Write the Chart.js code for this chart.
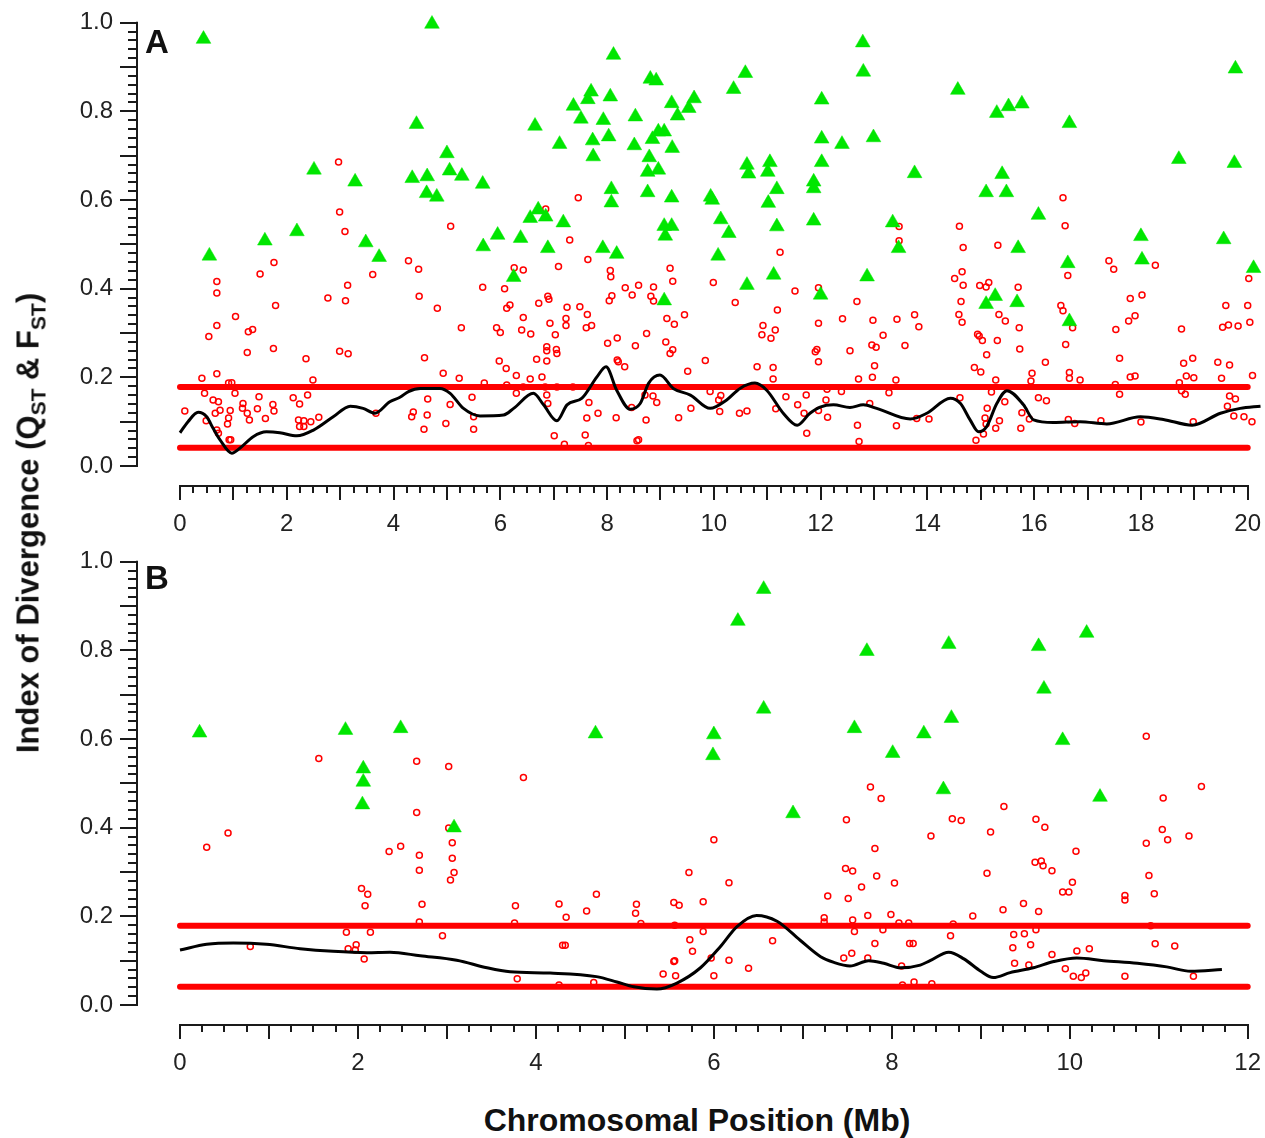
<!DOCTYPE html>
<html><head><meta charset="utf-8">
<style>
html,body{margin:0;padding:0;background:#fff;}
#wrap{position:relative;width:1265px;height:1138px;overflow:hidden;font-family:'Liberation Sans',Arial,sans-serif;background:#fff;}
canvas{position:absolute;left:0;}
#cA{top:0;} #cB{top:539px;}
.lbl{position:absolute;font-weight:bold;color:#111;line-height:1;white-space:nowrap;}
.sub{font-size:21px;position:relative;top:7px;}
</style>
<script src="https://cdn.jsdelivr.net/npm/chart.js@4.4.1/dist/chart.umd.min.js"></script>
</head><body>
<div id="wrap">
<canvas id="cA" width="1265" height="545"></canvas>
<canvas id="cB" width="1265" height="545"></canvas>
<div class="lbl" style="left:145px;top:25px;font-size:33px;">A</div>
<div class="lbl" style="left:145px;top:561px;font-size:33px;">B</div>
<div class="lbl" id="ytitle" style="left:28px;top:523px;font-size:31px;transform:translate(-50%,-50%) rotate(-90deg);">Index of Divergence (Q<span class="sub">ST</span> &amp; F<span class="sub">ST</span>)</div>
<div class="lbl" style="left:697px;top:1120px;font-size:32px;transform:translate(-50%,-50%);">Chromosomal Position (Mb)</div>
</div>
<script>
// ---------- Panel A data ----------
const xTicksA = [0,2,4,6,8,10,12,14,16,18,20];
const xTicksB = [0,2,4,6,8,10,12];
const yTicks = [0,0.2,0.4,0.6,0.8,1.0];
const yTickLabels = ['0.0','0.2','0.4','0.6','0.8','1.0'];
const thresholdsA = [0.178, 0.041];
const thresholdsB = [0.179, 0.041];

const qstA = [[0.44,0.963],[0.55,0.474],[1.59,0.508],[2.19,0.529],[2.51,0.668],[3.28,0.641],[3.48,0.504],[3.73,0.471],[4.35,0.649],[4.43,0.771],[4.72,0.997],[5.00,0.705],[4.63,0.653],[5.05,0.666],[5.28,0.654],[4.62,0.615],[4.81,0.607],[5.67,0.636],[6.65,0.767],[7.37,0.812],[7.70,0.844],[7.64,0.827],[7.51,0.783],[8.06,0.833],[7.93,0.780],[8.12,0.927],[7.73,0.734],[8.03,0.743],[7.74,0.698],[7.11,0.726],[8.53,0.788],[8.81,0.873],[8.92,0.869],[9.21,0.818],[9.63,0.829],[9.53,0.807],[9.32,0.790],[8.96,0.754],[9.07,0.754],[8.85,0.737],[8.51,0.723],[9.22,0.717],[8.79,0.696],[8.76,0.663],[8.96,0.668],[8.76,0.617],[9.21,0.605],[8.08,0.624],[8.08,0.594],[10.37,0.850],[10.59,0.886],[10.62,0.679],[10.65,0.659],[11.05,0.685],[11.01,0.663],[11.18,0.624],[11.02,0.593],[11.18,0.540],[11.12,0.431],[12.02,0.826],[12.02,0.738],[12.02,0.685],[11.87,0.641],[11.87,0.626],[11.87,0.553],[12.0,0.386],[9.94,0.607],[9.97,0.600],[10.13,0.556],[10.28,0.525],[10.08,0.474],[10.62,0.408],[9.07,0.541],[9.21,0.541],[9.09,0.519],[7.92,0.491],[8.18,0.478],[9.07,0.373],[7.18,0.549],[6.89,0.491],[6.71,0.578],[6.56,0.559],[6.85,0.562],[6.38,0.514],[5.95,0.521],[5.68,0.495],[6.25,0.426],[12.79,0.955],[12.80,0.889],[12.40,0.726],[12.99,0.741],[13.76,0.660],[14.57,0.848],[15.30,0.796],[15.52,0.811],[15.77,0.817],[16.66,0.773],[15.40,0.658],[15.10,0.617],[15.48,0.617],[16.08,0.566],[15.70,0.491],[16.63,0.457],[15.27,0.383],[15.10,0.365],[15.68,0.369],[16.66,0.326],[13.35,0.549],[13.46,0.491],[12.87,0.427],[18.71,0.692],[18.00,0.518],[18.02,0.465],[19.77,0.896],[19.75,0.683],[19.55,0.511],[20.11,0.446]];

const fstA = [[0.09,0.124],[0.41,0.198],[0.46,0.164],[0.49,0.102],[0.54,0.292],[0.69,0.416],[0.69,0.390],[0.69,0.317],[0.69,0.208],[0.62,0.149],[0.72,0.145],[0.75,0.126],[0.66,0.119],[0.69,0.081],[0.72,0.074],[0.89,0.095],[0.91,0.108],[0.94,0.125],[0.91,0.187],[0.97,0.188],[0.92,0.059],[0.95,0.059],[1.03,0.164],[1.04,0.337],[1.18,0.141],[1.17,0.130],[1.26,0.119],[1.30,0.104],[1.26,0.256],[1.28,0.303],[1.36,0.308],[1.45,0.129],[1.48,0.156],[1.50,0.433],[1.60,0.107],[1.74,0.139],[1.76,0.124],[1.75,0.265],[1.76,0.459],[1.79,0.362],[2.12,0.154],[2.24,0.140],[2.22,0.104],[2.24,0.089],[2.32,0.102],[2.32,0.089],[2.36,0.242],[2.39,0.160],[2.45,0.100],[2.49,0.194],[2.60,0.110],[2.77,0.379],[2.97,0.686],[2.99,0.573],[3.09,0.529],[3.14,0.408],[3.10,0.373],[2.99,0.259],[3.15,0.253],[3.61,0.432],[3.67,0.119],[4.28,0.463],[4.47,0.444],[4.48,0.383],[4.34,0.111],[4.37,0.122],
[4.82,0.356],[5.07,0.541],[4.58,0.244],[4.64,0.151],[4.63,0.115],[4.57,0.083],[4.93,0.209],[5.06,0.139],[4.98,0.096],[5.23,0.198],[5.27,0.312],[5.47,0.155],[5.50,0.111],[5.50,0.083],[5.67,0.403],[5.70,0.187],[5.93,0.312],[6.00,0.301],[5.98,0.237],[6.11,0.220],[6.08,0.400],[6.12,0.356],[6.18,0.363],[6.26,0.447],[6.43,0.442],[6.30,0.204],[6.30,0.164],[6.43,0.335],[6.40,0.307],[6.57,0.298],[6.56,0.196],[6.68,0.241],[6.72,0.367],[6.78,0.201],[6.85,0.580],[6.89,0.383],[6.91,0.376],[6.93,0.322],[6.87,0.269],[6.87,0.260],[7.05,0.263],[7.06,0.254],[6.87,0.237],[7.03,0.296],[6.87,0.160],[6.89,0.141],[7.01,0.068],[7.20,0.049],[7.09,0.450],[7.23,0.333],[7.25,0.358],[7.23,0.317],[7.30,0.510],[7.49,0.359],[7.46,0.605],[7.63,0.342],[7.61,0.312],[7.71,0.317],[7.64,0.466],[7.66,0.143],[7.62,0.108],[7.59,0.070],[7.65,0.046],[7.83,0.119],[8.01,0.277],[8.06,0.441],[8.07,0.427],[8.09,0.384],[8.04,0.373],[8.19,0.289],[8.19,0.239],[8.21,0.235],[8.33,0.224],[8.17,0.109],[8.34,0.402],[8.47,0.386],[8.59,0.408],[8.53,0.271],[8.46,0.132],[8.56,0.057],[8.59,0.059],[8.73,0.104],[8.74,0.299],[8.82,0.383],[8.87,0.404],[8.87,0.372],[8.71,0.160],[8.86,0.158],[8.93,0.143],[9.10,0.280],[9.18,0.446],[9.23,0.417],[9.23,0.262],[9.18,0.254],[9.12,0.333],[9.26,0.320],[9.45,0.341],[9.51,0.214],[9.57,0.130],[9.34,0.109],[9.84,0.238],[9.99,0.414],[9.93,0.168],[10.09,0.149],[10.13,0.159],[10.11,0.123],[10.40,0.369],[10.48,0.119],[10.62,0.124],[10.81,0.224],[10.92,0.317],[10.90,0.296],[11.07,0.288],[11.15,0.307],[11.19,0.352],[11.11,0.222],[11.11,0.196],[11.16,0.129],[11.35,0.156],[11.24,0.482],[11.52,0.395],[11.57,0.138],[11.69,0.119],[11.73,0.160],[11.74,0.074],[11.96,0.402],[11.96,0.322],[11.93,0.263],[11.90,0.258],[11.96,0.235],[11.96,0.125],[6.12,0.183],[6.43,0.178],[6.84,0.178],[7.06,0.178],[7.36,0.178],
[16.54,0.605],[16.58,0.542],[16.63,0.430],[16.50,0.362],[16.54,0.350],[16.59,0.274],[16.72,0.312],[16.66,0.211],[16.66,0.198],[16.86,0.194],[16.64,0.105],[16.76,0.096],[17.40,0.463],[17.49,0.444],[17.53,0.308],[17.60,0.243],[17.52,0.184],[17.60,0.162],[17.25,0.102],[17.80,0.201],[17.89,0.203],[17.80,0.378],[17.89,0.339],[17.77,0.327],[18.02,0.386],[18.27,0.453],[18.00,0.099],[18.76,0.309],[18.80,0.232],[18.97,0.243],[18.85,0.203],[18.99,0.199],[18.72,0.188],[18.76,0.170],[18.83,0.162],[18.98,0.100],[19.44,0.234],[19.51,0.198],[19.66,0.228],[19.66,0.158],[19.77,0.151],[19.62,0.135],[19.74,0.113],[19.93,0.111],[20.08,0.100],[20.09,0.204],[19.59,0.362],[19.53,0.313],[19.64,0.318],[19.82,0.316],[20.00,0.362],[20.04,0.324],[20.02,0.423],[12.12,0.173],[12.10,0.149],[12.13,0.110],[12.39,0.168],[12.41,0.332],[12.68,0.371],[12.55,0.260],[12.71,0.196],[12.69,0.092],[12.72,0.055],[12.96,0.273],[13.04,0.268],[13.01,0.226],[12.97,0.200],[12.98,0.329],[13.17,0.295],[12.92,0.141],[13.28,0.165],[13.41,0.194],[13.42,0.091],[13.43,0.331],[13.58,0.272],[13.76,0.341],[13.84,0.314],[13.80,0.107],[14.03,0.106],[13.47,0.540],[13.47,0.508],[14.51,0.423],[14.60,0.541],[14.67,0.493],[14.65,0.438],[14.67,0.408],[14.63,0.371],[14.59,0.342],[14.65,0.324],[14.94,0.297],[14.97,0.293],[15.03,0.283],[15.11,0.251],[14.88,0.222],[15.00,0.212],[14.98,0.407],[15.10,0.404],[15.15,0.414],[15.32,0.498],[15.34,0.342],[15.46,0.327],[15.31,0.283],[15.28,0.194],[15.20,0.167],[15.45,0.145],[15.12,0.130],[15.08,0.108],[15.10,0.095],[15.28,0.085],[15.35,0.102],[15.05,0.072],[14.91,0.058],[14.61,0.154],[15.70,0.403],[15.72,0.312],[15.73,0.264],[15.96,0.209],[15.94,0.192],[16.08,0.154],[16.23,0.147],[16.21,0.234],[15.77,0.120],[15.75,0.085],[15.91,0.106]];

const smoothA = [[0,0.075],[0.15,0.100],[0.34,0.121],[0.5,0.111],[0.62,0.085],[0.75,0.059],[0.97,0.029],[1.12,0.040],[1.37,0.066],[1.62,0.077],[1.87,0.075],[2.19,0.068],[2.50,0.081],[2.87,0.111],[3.19,0.135],[3.43,0.130],[3.65,0.119],[3.93,0.145],[4.12,0.155],[4.28,0.168],[4.50,0.175],[4.87,0.175],[5.06,0.164],[5.31,0.130],[5.62,0.113],[6.06,0.115],[6.25,0.130],[6.62,0.164],[6.81,0.138],[7.06,0.102],[7.25,0.138],[7.53,0.153],[7.81,0.201],[7.98,0.224],[8.18,0.171],[8.43,0.128],[8.62,0.141],[8.78,0.187],[8.99,0.205],[9.24,0.175],[9.56,0.160],[9.93,0.130],[10.24,0.149],[10.49,0.175],[10.77,0.187],[10.99,0.171],[11.30,0.119],[11.56,0.092],[11.80,0.119],[11.99,0.133],[12.24,0.138],[12.55,0.132],[12.80,0.138],[13.05,0.130],[13.68,0.106],[13.99,0.119],[14.43,0.153],[14.62,0.141],[14.80,0.104],[14.96,0.077],[15.11,0.089],[15.30,0.141],[15.49,0.170],[15.80,0.138],[15.99,0.104],[16.36,0.098],[16.86,0.100],[17.36,0.095],[17.99,0.111],[18.42,0.105],[18.96,0.092],[19.49,0.119],[19.86,0.130],[20.24,0.135]];

// ---------- Panel B data ----------
const qstB = [[0.22,0.614],[1.86,0.620],[2.48,0.624],[2.06,0.533],[2.06,0.503],[2.05,0.452],[3.08,0.400],[4.67,0.612],[6.00,0.610],[5.99,0.563],[6.27,0.866],[6.56,0.938],[6.56,0.668],[6.89,0.432],[7.72,0.798],[8.64,0.814],[9.65,0.809],[10.19,0.839],[9.71,0.713],[7.58,0.624],[8.36,0.612],[8.67,0.647],[8.01,0.568],[9.92,0.597],[8.58,0.486],[10.34,0.469]];

const fstB = [[1.56,0.556],[0.30,0.356],[0.54,0.388],[0.79,0.132],[1.87,0.164],[1.89,0.127],[1.98,0.136],[1.97,0.124],[2.07,0.104],[2.04,0.263],[2.11,0.250],[2.08,0.224],[2.14,0.164],[2.35,0.346],[2.48,0.358],[2.66,0.550],[2.66,0.434],[2.69,0.338],[2.69,0.304],[2.72,0.227],[2.69,0.187],[2.95,0.156],[3.02,0.538],[3.06,0.366],[3.06,0.331],[3.08,0.299],[3.04,0.282],[3.02,0.399],[3.86,0.513],[3.77,0.224],[3.76,0.185],[3.79,0.059],[4.26,0.228],[4.34,0.198],[4.30,0.135],[4.33,0.135],[4.26,0.045],[4.57,0.212],[4.68,0.250],[4.65,0.051],[5.13,0.227],[5.12,0.207],[5.18,0.184],[5.55,0.231],[5.61,0.225],[5.56,0.180],[5.73,0.147],[5.76,0.121],[5.55,0.098],[5.56,0.100],[5.43,0.070],[5.57,0.066],[5.72,0.299],[5.88,0.233],[5.88,0.166],[6.17,0.276],[6.00,0.373],[5.97,0.106],[6.00,0.066],[6.17,0.101],[6.39,0.083],[6.66,0.145],
[10.86,0.606],[11.48,0.493],[7.76,0.492],[7.88,0.466],[7.49,0.418],[7.81,0.353],[7.48,0.308],[7.56,0.302],[7.66,0.266],[7.83,0.291],[7.51,0.240],[8.03,0.275],[7.28,0.246],[7.24,0.197],[7.24,0.187],[7.73,0.202],[7.99,0.204],[7.56,0.192],[7.58,0.166],[7.90,0.170],[8.08,0.185],[8.19,0.185],[7.81,0.139],[8.20,0.139],[8.24,0.139],[7.46,0.106],[7.55,0.117],[7.73,0.106],[8.11,0.088],[8.12,0.045],[8.25,0.052],[8.45,0.048],[8.44,0.381],[8.68,0.420],[8.78,0.416],[8.66,0.156],[8.69,0.183],[8.91,0.201],[9.07,0.297],[9.11,0.390],[9.26,0.448],[9.25,0.215],[9.37,0.159],[9.49,0.161],[9.36,0.129],[9.56,0.136],[9.38,0.094],[9.54,0.090],[9.48,0.229],[9.65,0.211],[9.62,0.170],[9.62,0.419],[9.72,0.401],[9.61,0.322],[9.68,0.325],[9.70,0.314],[9.80,0.303],[10.07,0.347],[9.92,0.255],[9.99,0.255],[10.03,0.277],[9.80,0.114],[9.95,0.082],[10.08,0.122],[10.22,0.127],[10.04,0.065],[10.13,0.062],[10.18,0.072],[10.62,0.247],[10.62,0.237],[10.62,0.065],[10.86,0.365],[11.05,0.467],[11.04,0.396],[11.10,0.373],[11.34,0.381],[10.89,0.292],[10.95,0.251],[10.91,0.179],[10.96,0.138],[11.18,0.133],[11.39,0.065]];

const smoothB = [[0,0.124],[0.30,0.137],[0.60,0.140],[0.97,0.137],[1.35,0.127],[1.72,0.121],[2.10,0.118],[2.36,0.119],[2.70,0.111],[3.11,0.101],[3.45,0.084],[3.71,0.075],[4.16,0.072],[4.68,0.064],[4.91,0.052],[5.10,0.041],[5.36,0.036],[5.58,0.049],[5.85,0.084],[6.07,0.131],[6.26,0.177],[6.48,0.202],[6.71,0.189],[6.97,0.146],[7.20,0.109],[7.35,0.096],[7.53,0.088],[7.74,0.100],[7.91,0.094],[8.10,0.084],[8.32,0.090],[8.43,0.100],[8.64,0.119],[8.81,0.104],[9.00,0.076],[9.14,0.062],[9.33,0.073],[9.59,0.084],[9.82,0.098],[10.08,0.106],[10.38,0.100],[10.76,0.094],[11.09,0.086],[11.36,0.076],[11.71,0.080]];

// ---------- styling ----------
const GREEN = '#00e600';
const RED = '#ff0000';
const FONT = "'Liberation Sans', Arial, sans-serif";
const AXIS = '#1a1a1a';

const toXY = arr => arr.map(p => ({x: p[0], y: p[1]}));

const offsetAxes = {
  id: 'offsetAxes',
  afterDraw(chart) {
    const {ctx, chartArea, scales} = chart;
    const x = scales.x, y = scales.y;
    ctx.save();
    ctx.strokeStyle = AXIS;
    ctx.lineWidth = 2;
    ctx.lineCap = 'butt';
    // y axis (offset left of plot)
    const ax = chartArea.left - 43;
    const y0 = y.getPixelForValue(0), y1 = y.getPixelForValue(1);
    ctx.beginPath(); ctx.moveTo(ax, y0 + 1); ctx.lineTo(ax, y1 - 1); ctx.stroke();
    for (let i = 0; i <= 50; i++) {
      const py = Math.round(y.getPixelForValue(i * 0.02));
      const len = (i % 5 === 0) ? 17 : 9;
      ctx.beginPath(); ctx.moveTo(ax + 1, py); ctx.lineTo(ax - len, py); ctx.stroke();
    }
    // x axis (offset below plot)
    const ay = chartArea.bottom + 20;
    const xmax = x.max;
    ctx.beginPath(); ctx.moveTo(x.getPixelForValue(0) - 1, ay); ctx.lineTo(x.getPixelForValue(xmax) + 1, ay); ctx.stroke();
    for (let i = 0; i <= xmax * 4; i++) {
      const px = Math.round(x.getPixelForValue(i / 4));
      const len = (i % 4 === 0) ? 14 : 7;
      ctx.beginPath(); ctx.moveTo(px, ay - 1); ctx.lineTo(px, ay + len); ctx.stroke();
    }
    ctx.restore();
  }
};

function makePanel(id, qst, fst, smooth, thr, xTicks, xmax) {
  return new Chart(document.getElementById(id), {
    type: 'scatter',
    data: {
      datasets: [
        { label: 'Q_ST', data: toXY(qst), pointStyle: 'triangle', pointRadius: 8.5,
          backgroundColor: GREEN, borderColor: GREEN, borderWidth: 0.5, order: 2, clip: false },
        { label: 'F_ST', data: toXY(fst), pointStyle: 'circle', pointRadius: 3,
          backgroundColor: 'rgba(0,0,0,0)', borderColor: RED, borderWidth: 1.5, order: 4, clip: false },
        { label: 'upper', data: [{x: 0, y: thr[0]}, {x: xmax, y: thr[0]}], showLine: true,
          borderColor: RED, borderWidth: 6, borderCapStyle: 'round', pointRadius: 0, order: 3, clip: false },
        { label: 'lower', data: [{x: 0, y: thr[1]}, {x: xmax, y: thr[1]}], showLine: true,
          borderColor: RED, borderWidth: 6, borderCapStyle: 'round', pointRadius: 0, order: 3, clip: false },
        { label: 'smooth', data: toXY(smooth), showLine: true, borderColor: '#000', borderWidth: 3,
          pointRadius: 0, cubicInterpolationMode: 'monotone', borderJoinStyle: 'round', order: 1, clip: false }
      ]
    },
    options: {
      responsive: false, animation: false, events: [],
      layout: { padding: { left: 30, right: 17.3, top: 22.7, bottom: 0 } },
      plugins: { legend: { display: false }, tooltip: { enabled: false } },
      scales: {
        x: {
          type: 'linear', position: 'bottom', min: 0, max: xmax,
          afterFit: s => { s.height = 79; s.paddingLeft = 0; s.paddingRight = 0; s.paddingTop = 0; s.paddingBottom = 0; },
          afterBuildTicks: s => { s.ticks = xTicks.map(v => ({value: v})); },
          grid: { display: false, drawTicks: false }, border: { display: false },
          ticks: { padding: 44, autoSkip: false, maxRotation: 0, color: '#222',
                   font: { family: FONT, size: 24 }, callback: v => String(v) }
        },
        y: {
          type: 'linear', position: 'left', min: 0, max: 1,
          afterFit: s => { s.width = 150; s.paddingLeft = 0; s.paddingRight = 0; s.paddingTop = 0; s.paddingBottom = 0; },
          afterBuildTicks: s => { s.ticks = yTicks.map(v => ({value: v})); },
          grid: { display: false, drawTicks: false }, border: { display: false },
          ticks: { padding: 67, color: '#222', font: { family: FONT, size: 24 },
                   callback: (v, i) => yTickLabels[i] }
        }
      }
    },
    plugins: [offsetAxes]
  });
}

makePanel('cA', qstA, fstA, smoothA, thresholdsA, xTicksA, 20);
makePanel('cB', qstB, fstB, smoothB, thresholdsB, xTicksB, 12);
</script>
</body></html>
